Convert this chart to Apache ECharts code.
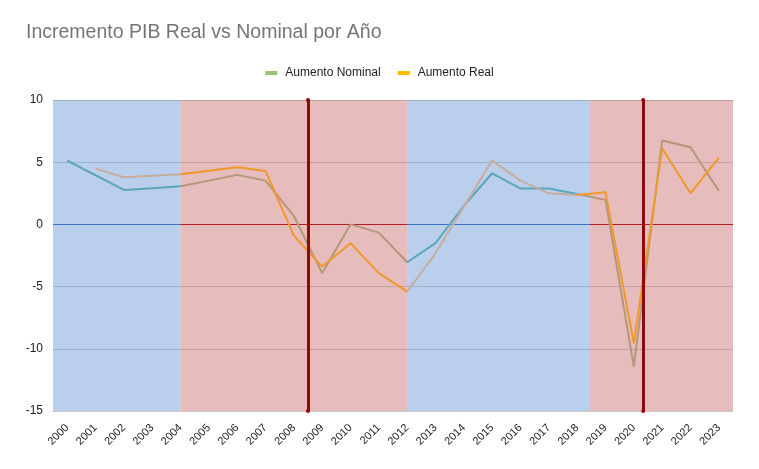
<!DOCTYPE html>
<html>
<head>
<meta charset="utf-8">
<script src="https://cdn.jsdelivr.net/npm/echarts@6/dist/echarts.min.js"></script>
<style>
html,body{margin:0;padding:0;background:#fff;}
#chart{width:759px;height:469px;}
</style>
</head>
<body>
<div id="chart"></div>
<script>
var years = ['2000','2001','2002','2003','2004','2005','2006','2007','2008','2009','2010','2011','2012','2013','2014','2015','2016','2017','2018','2019','2020','2021','2022','2023'];
var nominal = [5.13, 3.95, 2.77, 2.91, 3.07, 3.52, 3.98, 3.52, 0.68, -3.92, 0.0, -0.66, -3.04, -1.51, 1.5, 4.11, 2.88, 2.88, 2.45, 1.97, -11.43, 6.74, 6.2, 2.69];
var real = [null, 4.49, 3.79, 3.92, 4.03, 4.32, 4.6, 4.3, -0.9, -3.39, -1.51, -3.92, -5.4, -2.32, 1.43, 5.13, 3.52, 2.5, 2.36, 2.59, -9.55, 6.12, 2.5, 5.37];
var yTicks = [-15, -10, -5, 0, 5, 10];
// shaded periods [start, end, kind] in category-index units
var periods = [[-0.5, 4, 'blue'], [4, 12, 'red'], [12, 18.45, 'blue'], [18.45, 23.5, 'red']];
var markers = [8.5, 20.33];

var overlayColor = {blue: 'rgba(115,159,217,0.5)', red: 'rgba(207,121,121,0.5)'};
var zeroColor = {blue: '#3d72c8', red: '#b01e22'};
var nominalTint = {blue: '#5ba6bb', red: '#b4967a'};
var realTint = {blue: '#c6ad9e', red: '#f0982a'};

function piecesFor(tint) {
  return periods.map(function (p, i) {
    var piece = {color: tint[p[2]]};
    if (i > 0) piece.gte = p[0];
    if (i < periods.length - 1) piece.lt = p[1];
    return piece;
  });
}

var chart = echarts.init(document.getElementById('chart'), null, {renderer: 'canvas'});
var font = 'Arial, "Liberation Sans", sans-serif';

chart.setOption({
  animation: false,
  textStyle: {fontFamily: font},
  title: {
    text: 'Incremento PIB Real vs Nominal por Año',
    left: 26, top: 23, padding: 0,
    textStyle: {fontSize: 19.5, fontWeight: 'normal', color: '#757575', fontFamily: font}
  },
  legend: {
    top: 62, left: 'center',
    itemWidth: 12, itemHeight: 4, itemGap: 17,
    icon: 'rect',
    textStyle: {fontSize: 12, color: '#222', fontFamily: font, padding: [0, 0, 0, 3]},
    data: ['Aumento Nominal', 'Aumento Real']
  },
  visualMap: [{
    type: 'piecewise', show: false, dimension: 0, seriesIndex: 0,
    pieces: piecesFor(nominalTint)
  }, {
    type: 'piecewise', show: false, dimension: 0, seriesIndex: 1,
    pieces: piecesFor(realTint)
  }],
  grid: {left: 53, right: 26, top: 100, bottom: 58},
  xAxis: [{
    type: 'category',
    data: years,
    boundaryGap: true,
    axisLine: {onZero: false, lineStyle: {color: '#c8c8c8'}},
    axisTick: {show: false},
    axisLabel: {rotate: 45, fontSize: 11, color: '#222', margin: 15, interval: 0, fontFamily: font}
  }, {
    type: 'value', min: -0.5, max: 23.5, show: false
  }],
  yAxis: {
    type: 'value', min: -15, max: 10, interval: 5,
    axisLine: {show: false},
    axisTick: {show: false},
    axisLabel: {fontSize: 12, color: '#222', margin: 10, fontFamily: font},
    splitLine: {lineStyle: {color: '#c4c4c4'}}
  },
  series: [{
    name: 'Aumento Nominal',
    type: 'line',
    data: nominal,
    color: '#93c47d',
    symbol: 'none',
    lineStyle: {width: 2},
    z: 4
  }, {
    name: 'Aumento Real',
    type: 'line',
    data: real,
    color: '#fbbc04',
    symbol: 'none',
    connectNulls: false,
    lineStyle: {width: 2},
    z: 4
  }, {
    name: 'overlay',
    type: 'line',
    xAxisIndex: 1,
    data: [],
    silent: true,
    markArea: {
      silent: true,
      z: 1,
      data: periods.map(function (p) {
        return [{xAxis: p[0], itemStyle: {color: overlayColor[p[2]]}}, {xAxis: p[1]}];
      })
    },
    markLine: {
      silent: true,
      z: 3,
      symbol: 'none',
      label: {show: false},
      data: periods.map(function (p) {
        return [{coord: [p[0], 0], lineStyle: {color: zeroColor[p[2]], width: 1, type: 'solid'}}, {coord: [p[1], 0]}];
      })
    }
  }, {
    name: 'markers',
    type: 'line',
    xAxisIndex: 1,
    data: [],
    silent: true,
    markLine: {
      silent: true,
      z: 8,
      symbol: ['circle', 'circle'],
      symbolSize: 4,
      label: {show: false},
      lineStyle: {color: '#8e0b0b', width: 3, type: 'solid'},
      data: markers.map(function (m) { return {xAxis: m}; })
    }
  }]
});
</script>
</body>
</html>
